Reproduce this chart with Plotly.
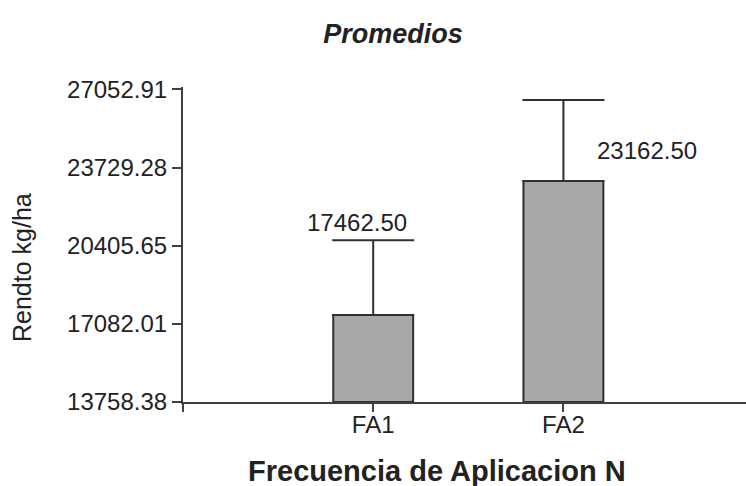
import plotly.graph_objects as go

categories = ["FA1", "FA2"]
means = [17462.50, 23162.50]
errors_up = [3175.0, 3443.0]
y_ticks = [13758.38, 17082.01, 20405.65, 23729.28, 27052.91]
y_tick_labels = ["13758.38", "17082.01", "20405.65", "23729.28", "27052.91"]

FONT = "Arial, Liberation Sans, sans-serif"
INK = "#222222"

L, R, T, B = 183, 0, 87, 84
W, H = 746, 486
PW, PH = W - L - R, H - T - B


def px_to_paper(px, py):
    return (px - L) / PW, (H - B - py) / PH


floor = y_ticks[0]

fig = go.Figure()
fig.add_trace(go.Bar(
    x=[0, 1],
    y=[m - floor for m in means],
    base=floor,
    width=0.42,
    marker=dict(color="#A9A9A9", line=dict(color="#303030", width=2)),
    error_y=dict(type="data", symmetric=False, array=errors_up,
                 arrayminus=[0] * len(means), color="#303030",
                 thickness=2, width=41),
    showlegend=False,
))

label_shifts = [(-16, 18), (84, -50)]
for i, (m, e) in enumerate(zip(means, errors_up)):
    dx, dy = label_shifts[i]
    fig.add_annotation(x=i, y=m + e, xref="x", yref="y", text=f"{m:.2f}",
                       showarrow=False, xshift=dx, yshift=dy,
                       font=dict(family=FONT, size=24, color=INK))

xt_x, xt_y = px_to_paper(437, 471)
fig.add_annotation(x=xt_x, y=xt_y, xref="paper", yref="paper",
                   text="<b>Frecuencia de Aplicacion N</b>", showarrow=False,
                   xanchor="center", yanchor="middle",
                   font=dict(family=FONT, size=29, color=INK))

yt_x, yt_y = px_to_paper(22, 268)
fig.add_annotation(x=yt_x, y=yt_y, xref="paper", yref="paper",
                   text="Rendto kg/ha", textangle=-90, showarrow=False,
                   xanchor="center", yanchor="middle",
                   font=dict(family=FONT, size=25, color=INK))

fig.update_layout(
    width=W, height=H,
    margin=dict(l=L, r=R, t=T, b=B),
    paper_bgcolor="white", plot_bgcolor="white",
    title=dict(text="<b><i>Promedios</i></b>", x=393 / W, y=1 - 34 / H,
               xanchor="center", yanchor="middle", xref="container", yref="container",
               font=dict(family=FONT, size=27, color=INK)),
    xaxis=dict(range=[-1, 1.96], tickvals=[0, 1], ticktext=categories,
               showgrid=False, zeroline=False, showline=True, linecolor="#404040",
               linewidth=2, ticks="outside", ticklen=8, tickwidth=2, tickcolor="#404040",
               ticklabelstandoff=-8,
               tickfont=dict(family=FONT, size=24, color=INK)),
    yaxis=dict(range=[floor, 27159], tickvals=y_ticks, ticktext=y_tick_labels,
               showgrid=False, zeroline=False, showline=True, linecolor="#404040",
               linewidth=2, ticks="outside", ticklen=9, tickwidth=2, tickcolor="#404040",
               tickfont=dict(family=FONT, size=24, color=INK)),
    shapes=[dict(type="line", xref="paper", yref="paper", x0=0, x1=0,
                 ysizemode="pixel", yanchor=0, y0=-10, y1=0,
                 line=dict(color="#404040", width=2))],
)

fig.write_html("out.html")
